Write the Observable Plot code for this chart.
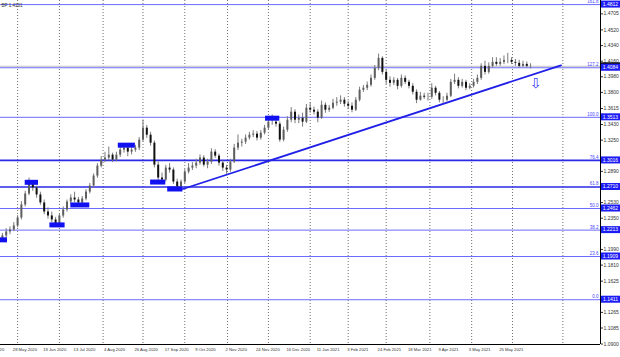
<!DOCTYPE html>
<html><head><meta charset="utf-8">
<script src="https://cdn.jsdelivr.net/npm/d3@7"></script>
<script src="https://cdn.jsdelivr.net/npm/@observablehq/plot@0.6"></script>
<style>
html,body{margin:0;padding:0;background:#fff;}
#chart{position:relative;width:620px;height:357px;overflow:hidden;}
</style></head><body><div id="chart"></div>
<script>
// ---- data (GBPUSD, two-day candles) ----
const startOpen = 1.2110;
const closes = [1.2146,1.2192,1.2215,1.2261,1.2353,1.2503,1.2629,1.2744,1.2698,1.2618,
1.2526,1.2422,1.2376,1.2330,1.2284,1.2376,1.2445,1.2537,1.2583,1.2560,
1.2526,1.2572,1.2652,1.2721,1.2836,1.2951,1.3020,1.3043,1.3077,1.3020,
1.3077,1.3135,1.3158,1.3112,1.3135,1.3158,1.3250,1.3388,1.3307,1.3215,
1.2962,1.2813,1.2790,1.2928,1.2905,1.2767,1.2710,1.2767,1.2882,1.2928,
1.2951,1.2985,1.3043,1.2962,1.2997,1.3112,1.3066,1.2985,1.2928,1.2905,
1.2997,1.3158,1.3215,1.3227,1.3273,1.3307,1.3319,1.3273,1.3330,1.3388,
1.3457,1.3457,1.3434,1.3250,1.3365,1.3480,1.3572,1.3480,1.3503,1.3457,
1.3618,1.3595,1.3572,1.3503,1.3652,1.3595,1.3618,1.3675,1.3687,1.3710,
1.3664,1.3641,1.3595,1.3710,1.3825,1.3848,1.3882,1.3962,1.4077,1.4192,
1.4031,1.3939,1.3905,1.3939,1.3870,1.3962,1.3916,1.3870,1.3802,1.3710,
1.3756,1.3744,1.3744,1.3848,1.3790,1.3710,1.3710,1.3756,1.3916,1.3939,
1.3870,1.3916,1.3848,1.3870,1.3916,1.3962,1.4100,1.4031,1.4100,1.4146,
1.4123,1.4146,1.4169,1.4169,1.4146,1.4135,1.4100,1.4123,1.4100,1.4101];
const highs = [1.2175,1.2230,1.2250,1.2300,1.2380,1.2540,1.2660,1.2813,1.2775,1.2720,
1.2650,1.2560,1.2470,1.2420,1.2360,1.2400,1.2480,1.2560,1.2620,1.2650,
1.2590,1.2600,1.2680,1.2750,1.2860,1.2980,1.3060,1.3110,1.3170,1.3100,
1.3110,1.3170,1.3200,1.3190,1.3180,1.3190,1.3280,1.3482,1.3420,1.3340,
1.3240,1.3000,1.2870,1.2960,1.2980,1.2930,1.2800,1.2790,1.2910,1.2980,
1.2990,1.3030,1.3080,1.3070,1.3030,1.3150,1.3140,1.3090,1.3010,1.2960,
1.3030,1.3200,1.3310,1.3260,1.3310,1.3340,1.3360,1.3350,1.3360,1.3420,
1.3490,1.3540,1.3490,1.3460,1.3400,1.3520,1.3625,1.3600,1.3540,1.3560,
1.3660,1.3680,1.3630,1.3600,1.3700,1.3680,1.3650,1.3720,1.3740,1.3760,
1.3740,1.3700,1.3680,1.3740,1.3860,1.3880,1.3920,1.4000,1.4110,1.4241,
1.4210,1.4060,1.3980,1.3970,1.3960,1.4000,1.3990,1.3940,1.3900,1.3830,
1.3800,1.3790,1.3790,1.3900,1.3870,1.3810,1.3750,1.3790,1.3950,1.4010,
1.3970,1.3950,1.3940,1.3900,1.3950,1.4000,1.4130,1.4160,1.4140,1.4200,
1.4200,1.4190,1.4220,1.4250,1.4200,1.4180,1.4170,1.4160,1.4150,1.4130];
const lows = [1.2076,1.2120,1.2160,1.2195,1.2240,1.2330,1.2480,1.2610,1.2660,1.2580,
1.2500,1.2390,1.2340,1.2300,1.2252,1.2270,1.2350,1.2420,1.2510,1.2530,
1.2480,1.2500,1.2550,1.2630,1.2700,1.2810,1.2930,1.2990,1.3010,1.2990,
1.3000,1.3050,1.3100,1.3060,1.3080,1.3110,1.3130,1.3230,1.3270,1.3180,
1.2930,1.2780,1.2762,1.2770,1.2870,1.2740,1.2676,1.2690,1.2750,1.2860,
1.2900,1.2920,1.2960,1.2940,1.2920,1.2970,1.3040,1.2950,1.2890,1.2855,
1.2880,1.2980,1.3130,1.3170,1.3200,1.3250,1.3280,1.3240,1.3250,1.3310,
1.3370,1.3420,1.3400,1.3225,1.3230,1.3340,1.3450,1.3440,1.3440,1.3400,
1.3440,1.3560,1.3540,1.3450,1.3490,1.3560,1.3570,1.3600,1.3640,1.3660,
1.3630,1.3600,1.3565,1.3580,1.3690,1.3800,1.3820,1.3860,1.3940,1.4050,
1.4000,1.3890,1.3860,1.3880,1.3830,1.3850,1.3890,1.3840,1.3770,1.3670,
1.3700,1.3720,1.3700,1.3720,1.3760,1.3680,1.3670,1.3690,1.3740,1.3890,
1.3840,1.3850,1.3820,1.3830,1.3850,1.3890,1.3940,1.4000,1.4010,1.4080,
1.4100,1.4100,1.4120,1.4130,1.4120,1.4100,1.4080,1.4090,1.4080,1.4070];

const fibLevels = ["161.8","127.2","100.0","76.4","61.8","50.0","38.2","23.6","0.0"];
const fibPrices = [1.4812,1.4084,1.3513,1.3016,1.2710,1.2462,1.2213,1.1909,1.1411];
const fibHeavy  = [false,false,false,true,true,false,false,false,false];

const priceTicks = [1.4705,1.4520,1.4340,1.4160,1.3980,1.3800,1.3615,1.3430,1.3250,1.3070,1.2890,
  1.2710,1.2530,1.2350,1.2170,1.1990,1.1810,1.1625,1.1445,1.1265,1.1085,1.0900];

const dateLabels = ["6 May 2020","28 May 2020","19 Jun 2020","13 Jul 2020","4 Aug 2020","26 Aug 2020",
  "17 Sep 2020","9 Oct 2020","2 Nov 2020","24 Nov 2020","16 Dec 2020","11 Jan 2021","3 Feb 2021",
  "24 Feb 2021","18 Mar 2021","9 Apr 2021","3 May 2021","25 May 2021"];
const dateLabelDays = [-9,7,23,39,55,71,87,103,119,135,151,167,183,199,215,231,247,263];
const gridDays = [9,31,54,75,97,119.5,141,163,183,203,226,248,269.5,296];

const boxStartDays = [0,13,26,37,62,79,88,139.5];
const boxEndDays   = [3.7,20,34,47,71,87,96,147];
const boxPrices    = [1.2101,1.2764,1.2273,1.2503,1.3192,1.2767,1.2687,1.3503];

const trendDays = [96,295];
const trendPrices = [1.2687,1.4112];
const lastPrice = 1.4101;
const arrowDay = 281.6, arrowPrice = 1.3905;
const chartTitle = "BP 1.4101";

// ---- tables ----
const bars = closes.map((c,i) => ({day: 2*i + 1, open: i ? closes[i-1] : startOpen, close: c, high: highs[i], low: lows[i]}));
const fib = fibLevels.map((l,i) => ({level: l, price: fibPrices[i], heavy: fibHeavy[i]}));
const boxes = boxPrices.map((p,i) => ({x1: boxStartDays[i], x2: boxEndDays[i], price: p}));
const trend = trendDays.map((d,i) => ({day: d, price: trendPrices[i]}));
const labelMap = new Map(dateLabelDays.map((d,i) => [d, dateLabels[i]]));
const fmt = d3.format(".4f");
// tick labels that sit under a level tag are hidden (as on the reference)
const visibleTicks = priceTicks.filter(t => fibPrices.every(p => Math.abs(p - t) > 0.0056));

function axisDecor(index, scales, values, dim) {
  const g = d3.create("svg:g");
  const xr = dim.width - dim.marginRight;
  const yb = dim.height - dim.marginBottom;
  g.append("line").attr("x1", xr + 0.5).attr("x2", xr + 0.5).attr("y1", 0).attr("y2", yb)
    .attr("stroke", "#000").attr("stroke-width", 1);
  g.append("line").attr("x1", 0).attr("x2", xr).attr("y1", yb + 0.5).attr("y2", yb + 0.5)
    .attr("stroke", "#000").attr("stroke-width", 1);
  const tag = (p, fill) => {
    const y = scales.y(p);
    g.append("rect").attr("x", xr + 1).attr("y", y - 3.5).attr("width", 19).attr("height", 7).attr("fill", fill);
    g.append("text").attr("x", xr + 10.5).attr("y", y).attr("dy", "0.35em")
      .attr("text-anchor", "middle").attr("fill", "#fff").attr("font-size", 5)
      .attr("font-family", "Liberation Sans, Arial, sans-serif").text(fmt(p));
  };
  tag(lastPrice, "#111");
  fibPrices.forEach(p => tag(p, "#1c1cf5"));
  return g.node();
}

const chart = Plot.plot({
  width: 620, height: 357,
  marginTop: 0, marginRight: 20, marginBottom: 13, marginLeft: 0,
  x: {domain: [0, 315.8], axis: null},
  y: {domain: [1.0895, 1.4859], axis: null},
  style: {fontFamily: "Liberation Sans, Arial, sans-serif", fontSize: "5px", background: "#fff", overflow: "visible"},
  marks: [
    Plot.ruleX(gridDays, {stroke: "#6e6e6e", strokeDasharray: "1,2", strokeWidth: 1}),
    Plot.ruleY(fib.filter(d => !d.heavy), {y: "price", stroke: "#6b6bff", strokeWidth: 1}),
    Plot.ruleY(fib.filter(d => d.heavy), {y: "price", stroke: "#2a2ae6", strokeWidth: 1.7}),
    Plot.ruleY([lastPrice], {stroke: "#c4c4c4", strokeWidth: 1}),
    Plot.line(trend, {x: "day", y: "price", stroke: "#1f1fe8", strokeWidth: 1.8}),
    Plot.ruleX(bars, {x: "day", y1: "low", y2: "high", stroke: "#7a7a7a", strokeWidth: 1}),
    Plot.ruleX(bars.filter(d => d.close >= d.open), {x: "day", y1: "open", y2: "close", stroke: "#5e5e5e", strokeWidth: 2}),
    Plot.ruleX(bars.filter(d => d.close < d.open), {x: "day", y1: "open", y2: "close", stroke: "#111", strokeWidth: 2}),
    Plot.ruleY(boxes, {y: "price", x1: "x1", x2: "x2", stroke: "#1010f0", strokeWidth: 5}),
    Plot.text([{day: arrowDay, price: arrowPrice}], {x: "day", y: "price", text: () => "\u21E9",
      fill: "#3a3aff", fontSize: 14, fontFamily: "DejaVu Sans"}),
    Plot.text(fib, {y: "price", text: "level", frameAnchor: "right", textAnchor: "end", dx: -2, dy: -3,
      fill: "#4646ff", fontSize: 4.5}),
    Plot.axisY({anchor: "right", ticks: visibleTicks, tickFormat: fmt, tickSize: 2, tickPadding: 1,
      fontSize: 5, color: "#333"}),
    Plot.axisX({anchor: "bottom", ticks: dateLabelDays, tickFormat: d => labelMap.get(d), textAnchor: "start",
      tickSize: 0, tickPadding: 4, fontSize: 4.2, color: "#333", dx: -1}),
    Plot.text([chartTitle], {frameAnchor: "top-left", text: d => d, dx: 1, dy: 3, fontSize: 4.5, fill: "#333"}),
    axisDecor
  ]
});
document.getElementById("chart").appendChild(chart);
</script>
</body></html>
